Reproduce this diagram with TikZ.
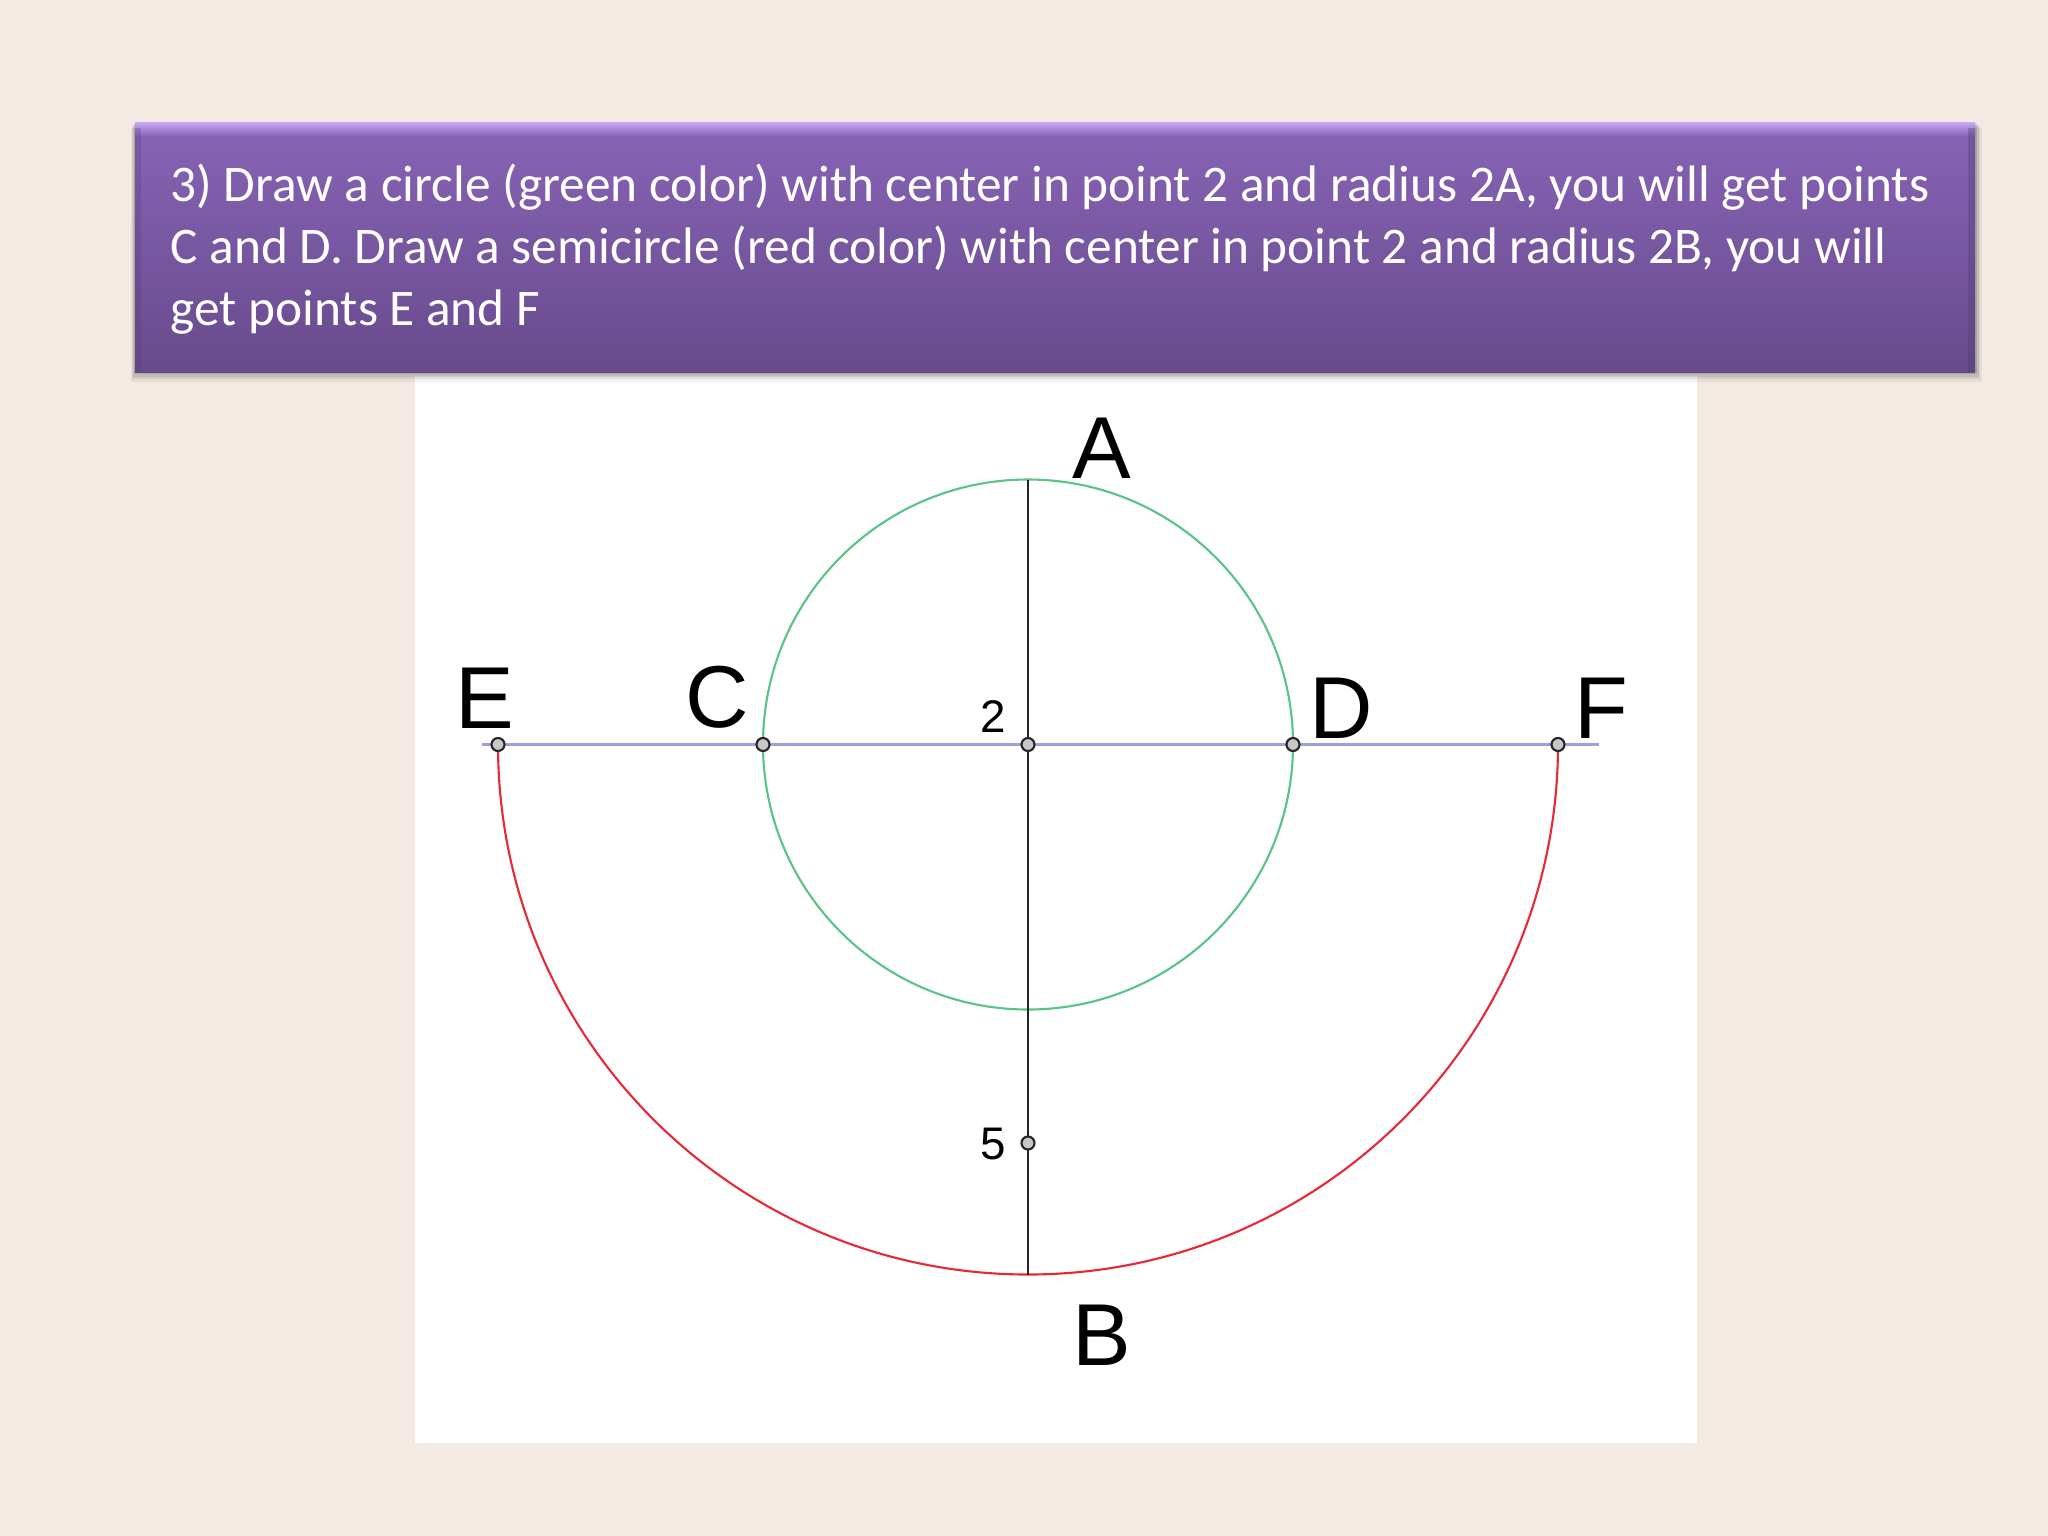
\documentclass[tikz,border=0pt]{standalone}
\usepackage{fontspec}
\setmainfont{Carlito}
\newfontfamily\arialfont{Liberation Sans}
\definecolor{bg}{RGB}{242,234,227}
\definecolor{bantop}{RGB}{136,100,182}
\definecolor{banbot}{RGB}{104,74,140}
\definecolor{banhi}{RGB}{200,170,245}
\definecolor{gcirc}{RGB}{90,195,135}
\definecolor{rcirc}{RGB}{232,40,55}
\definecolor{bline}{RGB}{155,160,225}
\tikzset{
  pt/.style={circle,draw=black!85,fill=black!22,line width=0.6pt,inner sep=0pt,minimum size=0.13cm},
  biglabel/.style={anchor=base,inner sep=0pt,font=\arialfont\fontsize{25}{30}\selectfont},
  smalllabel/.style={anchor=base,inner sep=0pt,font=\arialfont\fontsize{13}{15}\selectfont},
  geo/.style={line width=0.6pt}
}
\begin{document}
\begin{tikzpicture}[x=0.01cm,y=-0.01cm]
\fill[bg] (0,0) rectangle (2048,1536);
\useasboundingbox (0,0) rectangle (2048,1536);
% white panel
\fill[white] (415,376) rectangle (1697,1443);
% banner shadow
\foreach \d/\o in {12/0.05,9/0.07,6/0.09,3/0.12}{
  \fill[black,opacity=\o] (135-\d*0.3,122+\d*0.5) rectangle (1975+\d*0.6,372+\d*0.8);
}
% banner
\shade[top color=bantop,bottom color=banbot] (135,122) rectangle (1975,372);
\shade[top color=banhi,bottom color=bantop] (135,122) rectangle (1975,136);
\fill[banbot!80!black,opacity=0.35] (1968,128) rectangle (1975,372);
\fill[banbot!80!black,opacity=0.25] (135,128) rectangle (141,372);
\node[anchor=base west,inner sep=0pt,align=left,text=white,
      font=\fontsize{14.6}{17.6}\selectfont] (title) at (170,325)
  {3) Draw a circle (green color) with center in point 2 and radius 2A, you will get points\\
   C and D. Draw a semicircle (red color) with center in point 2 and radius 2B, you will\\
   get points E and F};
% geometry
\coordinate (c2) at (1028,744.5);
\coordinate (A) at (1028,479.5);
\coordinate (B) at (1028,1274.5);
\coordinate (bl) at (482,744.5);
\coordinate (br) at (1599,744.5);
\draw[bline,line width=0.75pt] (bl) -- (br);
\draw[gcirc,geo] (c2) circle[radius=265];
\draw[rcirc,geo] (498,744.5) arc[start angle=180,end angle=0,radius=530];
\draw[black!85,geo] (A) -- (B);
\node[pt] (pE) at (498,744.5) {};
\node[pt] (pC) at (763,744.5) {};
\node[pt] (p2) at (c2) {};
\node[pt] (pD) at (1293,744.5) {};
\node[pt] (pF) at (1558,744.5) {};
\node[pt] (p5) at (1028,1143) {};
% labels
\node[biglabel] (lA) at (1102,478) {A};
\node[biglabel] (lB) at (1102,1365) {B};
\node[biglabel] (lE) at (484.5,728) {E};
\node[biglabel] (lC) at (717.5,727) {C};
\node[biglabel] (lD) at (1341.5,738) {D};
\node[biglabel] (lF) at (1601,738) {F};
\node[smalllabel] (l2) at (993,732) {2};
\node[smalllabel] (l5) at (993,1159) {5};
\end{tikzpicture}
\end{document}
